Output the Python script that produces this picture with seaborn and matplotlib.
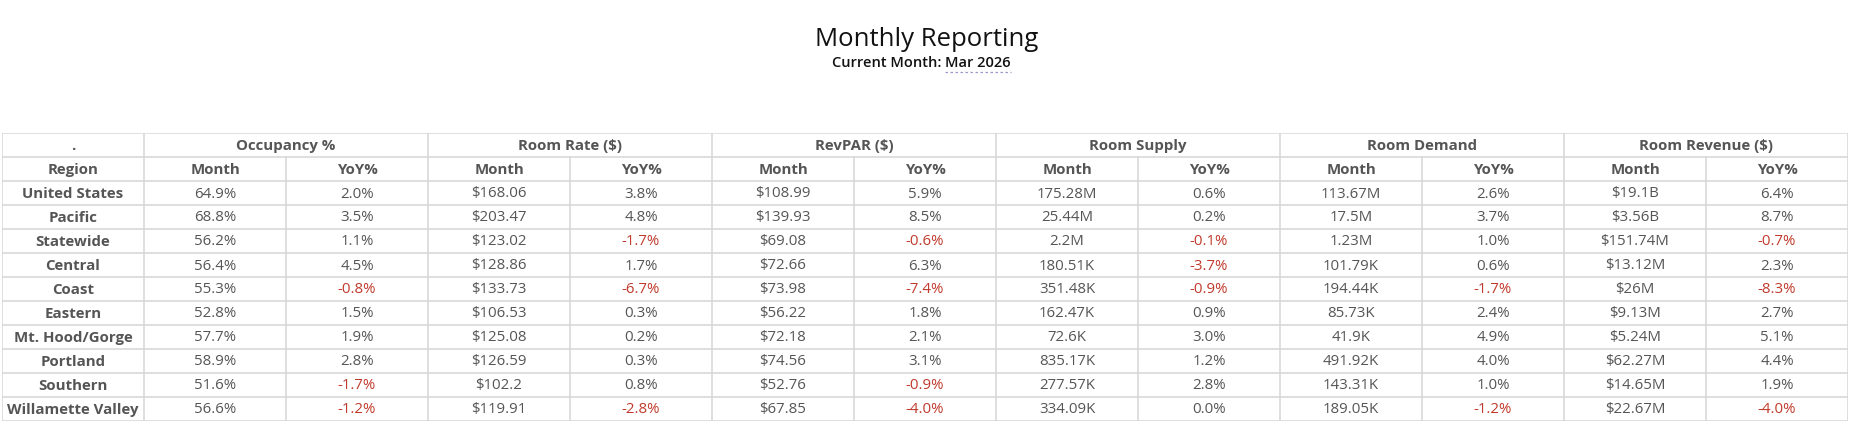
import matplotlib
matplotlib.use("Agg")
import matplotlib.pyplot as plt
import seaborn as sns
import pandas as pd

regions = ["United States", "Pacific", "Statewide", "Central", "Coast", "Eastern",
           "Mt. Hood/Gorge", "Portland", "Southern", "Willamette Valley"]
groups = ["Occupancy %", "Room Rate ($)", "RevPAR ($)", "Room Supply", "Room Demand", "Room Revenue ($)"]
occ_month = ["64.9%", "68.8%", "56.2%", "56.4%", "55.3%", "52.8%", "57.7%", "58.9%", "51.6%", "56.6%"]
occ_yoy = ["2.0%", "3.5%", "1.1%", "4.5%", "-0.8%", "1.5%", "1.9%", "2.8%", "-1.7%", "-1.2%"]
rate_month = ["$168.06", "$203.47", "$123.02", "$128.86", "$133.73", "$106.53", "$125.08", "$126.59", "$102.2", "$119.91"]
rate_yoy = ["3.8%", "4.8%", "-1.7%", "1.7%", "-6.7%", "0.3%", "0.2%", "0.3%", "0.8%", "-2.8%"]
revpar_month = ["$108.99", "$139.93", "$69.08", "$72.66", "$73.98", "$56.22", "$72.18", "$74.56", "$52.76", "$67.85"]
revpar_yoy = ["5.9%", "8.5%", "-0.6%", "6.3%", "-7.4%", "1.8%", "2.1%", "3.1%", "-0.9%", "-4.0%"]
supply_month = ["175.28M", "25.44M", "2.2M", "180.51K", "351.48K", "162.47K", "72.6K", "835.17K", "277.57K", "334.09K"]
supply_yoy = ["0.6%", "0.2%", "-0.1%", "-3.7%", "-0.9%", "0.9%", "3.0%", "1.2%", "2.8%", "0.0%"]
demand_month = ["113.67M", "17.5M", "1.23M", "101.79K", "194.44K", "85.73K", "41.9K", "491.92K", "143.31K", "189.05K"]
demand_yoy = ["2.6%", "3.7%", "1.0%", "0.6%", "-1.7%", "2.4%", "4.9%", "4.0%", "1.0%", "-1.2%"]
rev_month = ["$19.1B", "$3.56B", "$151.74M", "$13.12M", "$26M", "$9.13M", "$5.24M", "$62.27M", "$14.65M", "$22.67M"]
rev_yoy = ["6.4%", "8.7%", "-0.7%", "2.3%", "-8.3%", "2.7%", "5.1%", "4.4%", "1.9%", "-4.0%"]

sns.set_theme(style="white")
plt.rcParams["font.family"] = ["Open Sans", "DejaVu Sans"]

cols = [occ_month, occ_yoy, rate_month, rate_yoy, revpar_month, revpar_yoy,
        supply_month, supply_yoy, demand_month, demand_yoy, rev_month, rev_yoy]
df = pd.DataFrame({"Region": regions})
for i, c in enumerate(cols):
    df[f"c{i}"] = c

W, H = 1857, 431
fig = plt.figure(figsize=(W / 100, H / 100), dpi=100)
x0, x1, y0, y1 = 2, 1848, 134, 422
ax = fig.add_axes([x0 / W, 1 - y1 / H, (x1 - x0) / W, (y1 - y0) / H])
ncol, nrow = 13, 12
ax.set_xlim(0, ncol)
ax.set_ylim(nrow, 0)
ax.axis("off")

lc = "#d6d6d6"
tc = "#555555"
red = "#c0392b"
for r in range(nrow + 1):
    ax.plot([0, ncol], [r, r], color=lc, lw=1.1, solid_capstyle="butt")
for c in range(ncol + 1):
    if c == 0 or c == ncol or c % 2 == 1:
        ax.plot([c, c], [0, nrow], color=lc, lw=1.1)
    else:
        ax.plot([c, c], [1, nrow], color=lc, lw=1.1)

fs = 10.8
ax.text(0.5, 0.5, ".", ha="center", va="center", fontsize=fs, color=tc, fontweight="bold")
ax.text(0.5, 1.5, "Region", ha="center", va="center", fontsize=fs, color=tc, fontweight="bold")
for g, name in enumerate(groups):
    ax.text(1 + 2 * g + 1, 0.5, name, ha="center", va="center", fontsize=fs, color=tc, fontweight="bold")
    ax.text(1 + 2 * g + 0.5, 1.5, "Month", ha="center", va="center", fontsize=fs, color=tc, fontweight="bold")
    ax.text(1 + 2 * g + 1.5, 1.5, "YoY%", ha="center", va="center", fontsize=fs, color=tc, fontweight="bold")

for r, row in df.iterrows():
    y = r + 2.5
    ax.text(0.5, y, row["Region"], ha="center", va="center", fontsize=fs, color=tc, fontweight="bold")
    for i in range(12):
        v = row[f"c{i}"]
        color = red if v.startswith("-") else tc
        ax.text(1 + i + 0.5, y, v, ha="center", va="center", fontsize=fs, color=color)

fig.text(927 / W, 1 - 39 / H, "Monthly Reporting", ha="center", va="center", fontsize=18.5, color="#111111")
fig.text(945 / W, 1 - 63 / H, "Current Month: ", ha="right", va="center", fontsize=10.5, color="#111111", fontweight="semibold")
fig.text(945 / W, 1 - 63 / H, "Mar 2026", ha="left", va="center", fontsize=10.5, color="#111111", fontweight="semibold")
fig.lines.append(plt.Line2D([945 / W, 1011 / W], [1 - 73 / H, 1 - 73 / H], transform=fig.transFigure,
                            color="#9999cc", lw=0.9, ls=(0, (2, 2))))

fig.savefig("out.png", dpi=100, facecolor="white")
